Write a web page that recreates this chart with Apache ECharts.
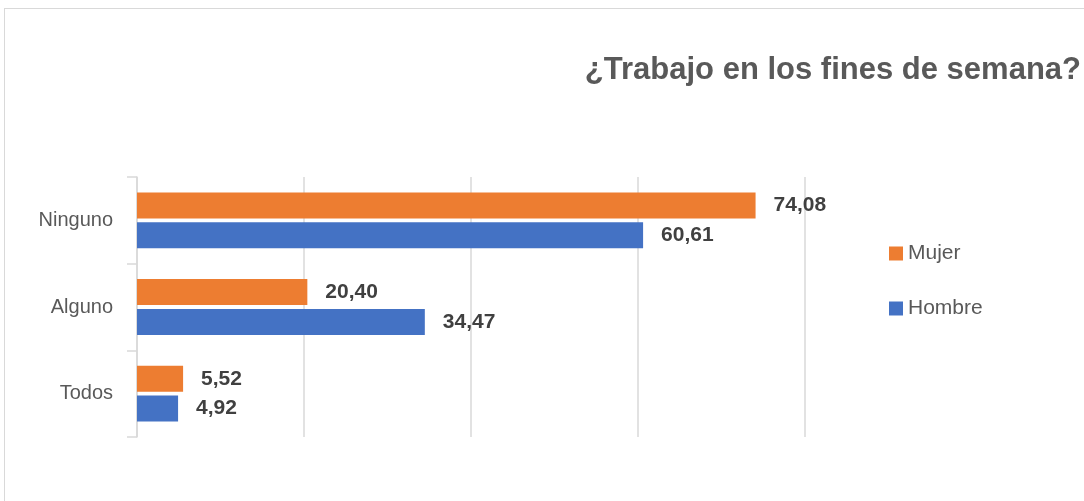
<!DOCTYPE html>
<html>
<head>
<meta charset="utf-8">
<script src="https://cdn.jsdelivr.net/npm/echarts@6/dist/echarts.min.js"></script>
<style>
  html, body { margin: 0; padding: 0; background: #fff; }
  #wrap { position: relative; width: 1084px; height: 501px; overflow: hidden; }
  #frame { position: absolute; left: 4px; top: 8px; width: 1200px; height: 600px; border: 1px solid #d9d9d9; }
  #chart-container { position: absolute; left: 0; top: 0; width: 1084px; height: 501px; }
</style>
</head>
<body>
<div id="wrap">
  <div id="frame"></div>
  <div id="chart-container"></div>
</div>
<script>
// categories bottom -> top, as the y axis draws them
var categories = ["Todos", "Alguno", "Ninguno"];
var mujer = [5.52, 20.40, 74.08];
var hombre = [4.92, 34.47, 60.61];
var seriesNames = ["Mujer", "Hombre"];

var dom = document.getElementById("chart-container");
var myChart = echarts.init(dom, null, { renderer: "canvas" });

var fmt = function (p) {
  return p.value.toFixed(2).replace(".", ",");
};

var labelStyle = {
  show: true,
  position: "right",
  distance: 18,
  fontFamily: "Liberation Sans, Arial, sans-serif",
  fontWeight: "bold",
  fontSize: 21,
  color: "#404040",
  formatter: fmt
};

var option = {
  animation: false,
  title: {
    text: "¿Trabajo en los fines de semana?",
    right: -2,
    top: 50,
    textStyle: {
      fontFamily: "Liberation Sans, Arial, sans-serif",
      fontWeight: "bold",
      fontSize: 31,
      color: "#595959"
    }
  },
  legend: {
    data: seriesNames,
    orient: "vertical",
    left: 884,
    top: 238,
    icon: "rect",
    itemWidth: 14,
    itemHeight: 14,
    itemGap: 34,
    textStyle: {
      fontFamily: "Liberation Sans, Arial, sans-serif",
      fontSize: 21,
      color: "#595959"
    }
  },
  grid: { left: 137, right: 279, top: 177, bottom: 64 },
  xAxis: {
    type: "value",
    min: 0,
    max: 80,
    interval: 20,
    axisLabel: { show: false },
    axisLine: { show: false },
    axisTick: { show: false },
    splitLine: { lineStyle: { color: "#d9d9d9", width: 1.5 } }
  },
  yAxis: {
    type: "category",
    data: categories,
    axisLine: { show: true, lineStyle: { color: "#d9d9d9", width: 1.5 } },
    axisTick: { show: true, length: 10, lineStyle: { color: "#d9d9d9", width: 1.5 } },
    axisLabel: {
      margin: 24,
      fontFamily: "Liberation Sans, Arial, sans-serif",
      fontSize: 20,
      color: "#595959"
    }
  },
  series: [
    {
      name: "Mujer",
      type: "bar",
      data: mujer,
      barWidth: 26,
      barGap: "15%",
      itemStyle: { color: "#ED7D31" },
      label: labelStyle
    },
    {
      name: "Hombre",
      type: "bar",
      data: hombre,
      barWidth: 26,
      barGap: "15%",
      itemStyle: { color: "#4472C4" },
      label: labelStyle
    }
  ]
};

myChart.setOption(option);
window.addEventListener("resize", myChart.resize);
</script>
</body>
</html>
